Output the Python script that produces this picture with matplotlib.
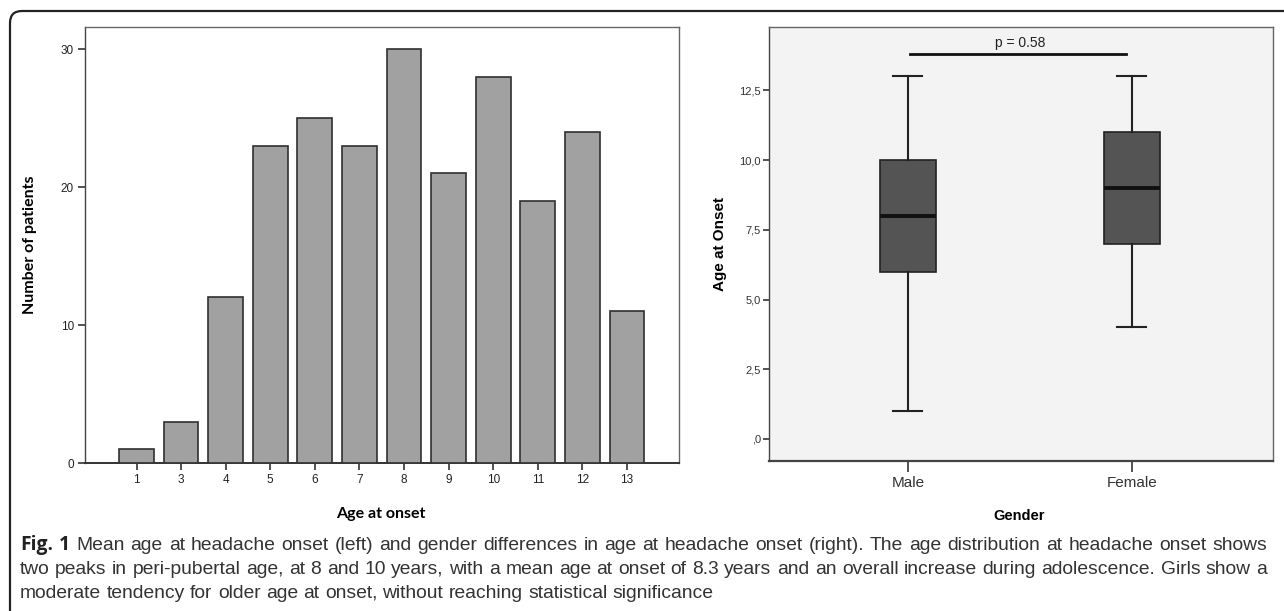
import matplotlib
matplotlib.use("Agg")
import matplotlib.pyplot as plt
from matplotlib import font_manager
from matplotlib.path import Path
from matplotlib.patches import PathPatch

# ---------------- data ----------------
ages = ["1", "3", "4", "5", "6", "7", "8", "9", "10", "11", "12", "13"]
patients = [1, 3, 12, 23, 25, 23, 30, 21, 28, 19, 24, 11]

genders = ["Male", "Female"]
whisker_low = [1, 4]
q1 = [6, 7]
median = [8, 9]
q3 = [10, 11]
whisker_high = [13, 13]

left_yticks = [0, 10, 20, 30]
right_yticks = [0, 2.5, 5, 7.5, 10, 12.5]
right_yticklabels = [",0", "2,5", "5,0", "7,5", "10,0", "12,5"]
p_text = "p = 0.58"

caption_bold = "Fig. 1"
caption_lines = [
    "Mean age at headache onset (left) and gender differences in age at headache onset (right). The age distribution at headache onset shows",
    "two peaks in peri-pubertal age, at 8 and 10 years, with a mean age at onset of 8.3 years and an overall increase during adolescence. Girls show a",
    "moderate tendency for older age at onset, without reaching statistical significance",
]

avail = {f.name for f in font_manager.fontManager.ttflist}
narrow = "Liberation Sans Narrow" if "Liberation Sans Narrow" in avail else "Liberation Sans"
W, H = 1284, 611
fig = plt.figure(figsize=(W / 100, H / 100), dpi=100)

# background overlay in pixel coordinates
bg = fig.add_axes([0, 0, 1, 1], zorder=-5)
bg.set_xlim(0, W)
bg.set_ylim(H, 0)
bg.axis("off")
r = 12
x0, y0, x1, y1 = 10, 11, W + 20, H + 20
verts = [(x1, y0), (x0 + r, y0), (x0, y0), (x0, y0 + r), (x0, y1)]
codes = [Path.MOVETO, Path.LINETO, Path.CURVE3, Path.CURVE3, Path.LINETO]
bg.add_patch(PathPatch(Path(verts, codes), fill=False, lw=1.6, ec="#222222"))

# ---------------- left: bar chart ----------------
axl = fig.add_axes([85 / W, 1 - 463 / H, (679 - 85) / W, (463 - 27) / H])
xpos = list(range(len(ages)))
axl.bar(xpos, patients, width=0.78, color="#a1a1a1", edgecolor="#303030", linewidth=1.2, zorder=3)
axl.set_xlim(-1.155, len(ages) - 1 + 1.166)
axl.set_ylim(0, 31.6)
axl.set_xticks(xpos)
axl.set_xticklabels(ages)
axl.set_yticks(left_yticks)
for s in axl.spines.values():
    s.set_color("#666666")
    s.set_linewidth(1.0)
axl.spines["bottom"].set_color("#333333")
axl.spines["bottom"].set_linewidth(1.4)
axl.spines["left"].set_color("#444444")
axl.tick_params(axis="both", direction="out", length=5, width=1.2, color="#333333",
                labelsize=8.5, labelcolor="#222222", pad=3)
for t in axl.get_xticklabels() + axl.get_yticklabels():
    t.set_family("Liberation Sans")
axl.set_ylabel("Number of patients", fontsize=11.5, fontweight="bold", family="Lato")
axl.yaxis.set_label_coords(-0.081, 0.5)
axl.set_xlabel("Age at onset", fontsize=11.5, fontweight="bold", family="Lato")
axl.xaxis.set_label_coords(0.498, -0.10)

# ---------------- right: box plot ----------------
axr = fig.add_axes([769 / W, 1 - 461 / H, (1273 - 769) / W, (461 - 27) / H])
axr.set_facecolor("#f3f3f3")
stats = []
for i, g in enumerate(genders):
    stats.append(dict(label=g, whislo=whisker_low[i], q1=q1[i], med=median[i],
                      q3=q3[i], whishi=whisker_high[i], fliers=[]))
axr.bxp(stats, positions=[0, 1], widths=0.25, patch_artist=True, showfliers=False,
        boxprops=dict(facecolor="#545454", edgecolor="#222222", linewidth=1.2),
        medianprops=dict(color="#111111", linewidth=2.8),
        whiskerprops=dict(color="#222222", linewidth=1.5),
        capprops=dict(color="#222222", linewidth=1.5),
        capwidths=0.13)
axr.set_xlim(-0.62, 1.63)
axr.set_ylim(-0.79, 14.77)
axr.set_yticks(right_yticks)
axr.set_yticklabels(right_yticklabels)
axr.set_xticks([0, 1])
axr.set_xticklabels(genders)
for s in axr.spines.values():
    s.set_color("#666666")
    s.set_linewidth(1.0)
axr.spines["bottom"].set_color("#444444")
axr.spines["bottom"].set_linewidth(1.6)
axr.spines["left"].set_color("#444444")
axr.tick_params(axis="y", direction="out", length=4, width=1.2, color="#333333",
                labelsize=8, labelcolor="#333333", pad=2)
axr.tick_params(axis="x", direction="out", length=8, width=1.2, color="#333333",
                labelsize=11, labelcolor="#333333", pad=3)
for t in axr.get_yticklabels() + axr.get_xticklabels():
    t.set_family(narrow)
axr.set_ylabel("Age at Onset", fontsize=11, fontweight="bold", family="Liberation Sans")
axr.yaxis.set_label_coords(-0.083, 0.5)
axr.set_xlabel("Gender", fontsize=10.5, fontweight="bold", family="Liberation Sans")
axr.xaxis.set_label_coords(0.496, -0.11)
axr.plot([0.01, 0.975], [13.8, 13.8], color="#111111", lw=2.0)
axr.text(0.5, 13.95, p_text, ha="center", va="bottom", fontsize=10, family=narrow, color="#222222")

# ---------------- caption (justified) ----------------
fig.canvas.draw()
rend = fig.canvas.get_renderer()
ys = [545, 569, 593]
left_x, right_x = 20, 1267


def words_for(k):
    ws = [(w, False) for w in caption_lines[k].split(" ")]
    if k == 0:
        ws = [(w, True) for w in caption_bold.split(" ")] + ws
    return ws


def measure(word, bold, fs):
    t = bg.text(0, 0, word, fontsize=fs, family="Open Sans" if bold else narrow,
                fontweight="bold" if bold else "normal")
    w = t.get_window_extent(renderer=rend).width
    t.remove()
    return w


# choose a font size so the longest line fits with a normal space
fs = 13.5
for _ in range(3):
    ws = words_for(1)
    total = sum(measure(w, b, fs) for w, b in ws) + measure("a a", False, fs) * 0 
    space = measure("a a", False, fs) - 2 * measure("a", False, fs)
    natural = total + space * (len(ws) - 1)
    fs = fs * (right_x - left_x) / natural

for k in range(3):
    ws = words_for(k)
    widths = [measure(w, b, fs) for w, b in ws]
    space = measure("a a", False, fs) - 2 * measure("a", False, fs)
    if k < 2:
        gap = (right_x - left_x - sum(widths)) / (len(ws) - 1)
    else:
        gap = space
    x = left_x
    for (w, b), wd in zip(ws, widths):
        bg.text(x, ys[k], w, fontsize=fs, family="Open Sans" if b else narrow,
                fontweight="bold" if b else "normal", va="center", ha="left",
                color="#222222" if b else "#333333")
        x += wd + gap

fig.savefig("out.png", dpi=100)
